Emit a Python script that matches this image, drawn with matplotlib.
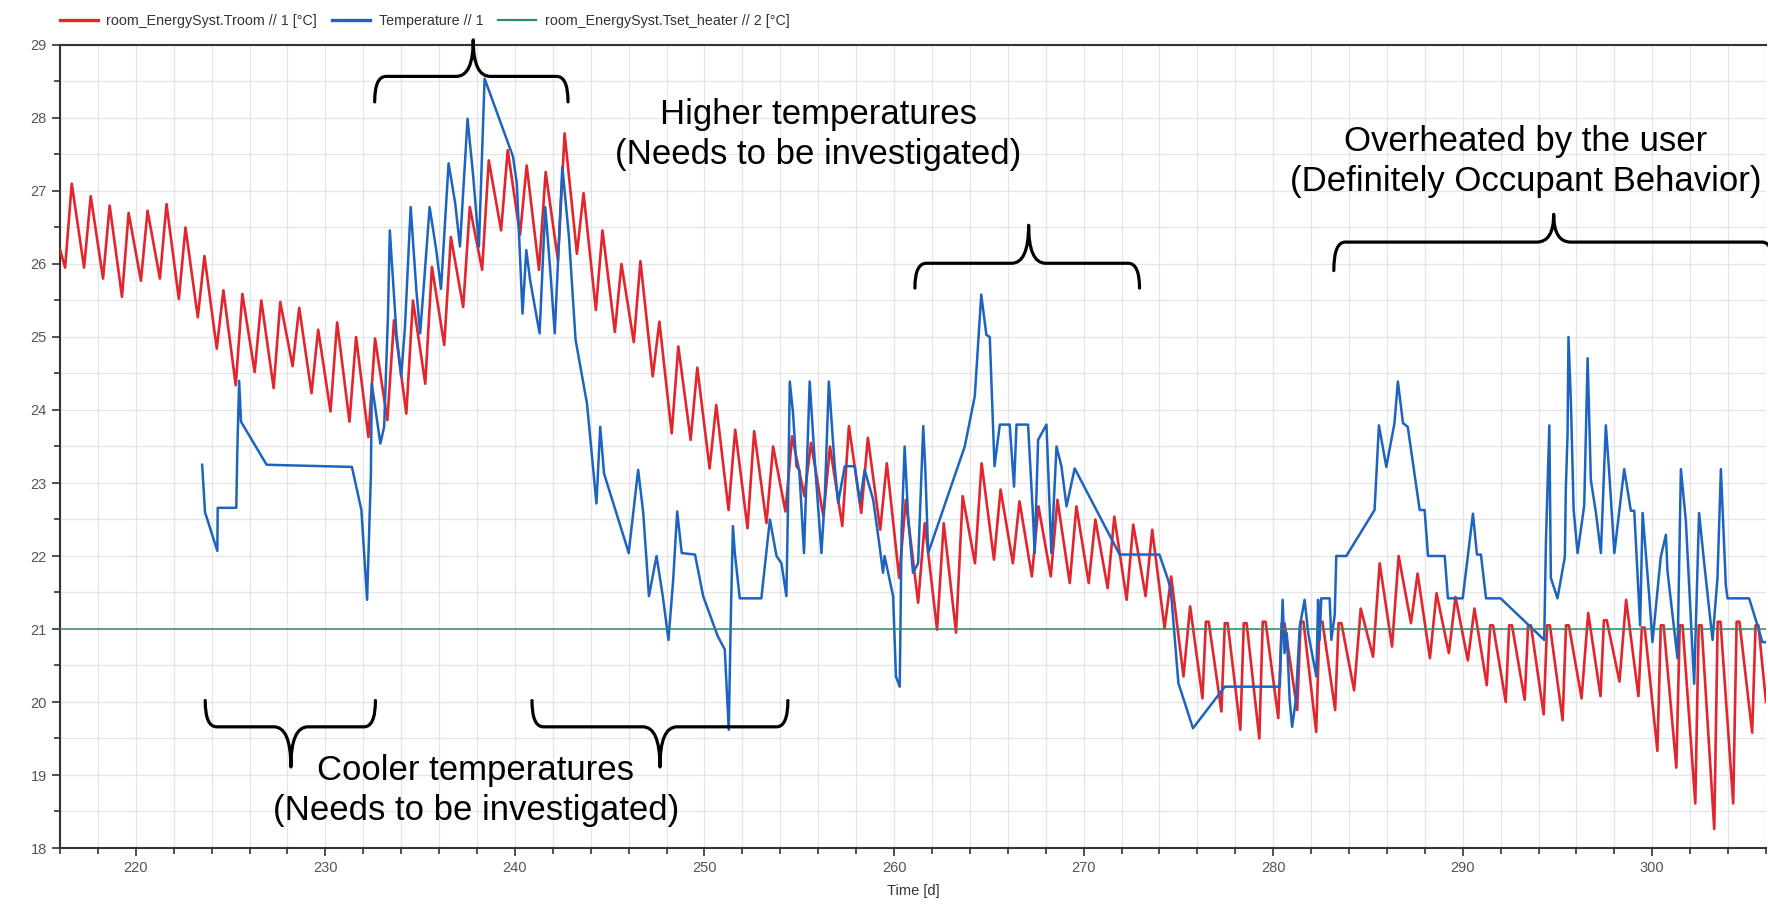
import numpy as np
import matplotlib
matplotlib.use("Agg")
import matplotlib.pyplot as plt
from matplotlib.path import Path
from matplotlib.patches import PathPatch
from matplotlib.lines import Line2D

# ---------------- data ----------------
# simulated room temperature: one trough and one peak per day
sim_days = list(range(216, 306))
sim_low = [25.95, 25.95, 25.80, 25.55, 25.77, 25.80, 25.52, 25.27, 24.84, 24.34,
           24.52, 24.30, 24.60, 24.23, 23.98, 23.84, 23.63, 23.86, 23.95, 24.36,
           24.89, 25.41, 25.92, 26.46, 26.40, 25.92, 26.05, 26.14, 25.37, 25.07,
           24.93, 24.46, 23.68, 23.59, 23.20, 22.63, 22.38, 22.45, 22.61, 22.82,
           22.54, 22.41, 22.59, 22.36, 21.70, 21.36, 20.99, 20.95, 21.90, 21.95,
           21.90, 21.72, 21.72, 21.63, 21.63, 21.56, 21.40, 21.45, 21.01, 20.35,
           20.05, 19.87, 19.62, 19.50, 19.78, 19.89, 19.59, 19.89, 20.16, 20.62,
           20.76, 21.08, 20.60, 20.67, 20.57, 20.23, 20.00, 20.03, 19.83, 19.75,
           20.05, 20.08, 20.28, 20.08, 19.33, 19.10, 18.61, 18.26, 18.61, 19.58]
sim_high = [27.10, 26.93, 26.80, 26.70, 26.73, 26.82, 26.50, 26.11, 25.64, 25.59,
            25.50, 25.48, 25.40, 25.10, 25.20, 25.00, 24.98, 25.23, 25.50, 25.96,
            26.37, 26.78, 27.42, 27.56, 27.35, 27.26, 27.79, 26.97, 26.46, 26.00,
            26.04, 25.21, 24.87, 24.58, 24.07, 23.73, 23.71, 23.50, 23.64, 23.55,
            23.50, 23.78, 23.62, 23.27, 22.77, 22.45, 22.45, 22.82, 23.27, 22.91,
            22.75, 22.68, 22.77, 22.68, 22.50, 22.54, 22.43, 22.36, 21.72, 21.31,
            21.10, 21.08, 21.08, 21.10, 21.08, 21.10, 21.10, 21.08, 21.28, 21.90,
            22.00, 21.76, 21.49, 21.44, 21.28, 21.05, 21.05, 21.05, 21.05, 21.05,
            21.22, 21.12, 21.40, 21.02, 21.05, 21.05, 21.05, 21.10, 21.10, 21.05]
sim_first = 26.2
sim_last = 20.0

# measured temperature
meas_time = [223.5, 223.65, 224.3, 224.32, 225.3, 225.35, 225.45, 225.55, 226.9, 231.4,
             231.9, 232.2, 232.4, 232.45, 232.9, 233.1, 233.3, 233.4, 233.5, 233.75,
             234.0, 234.2, 234.5, 234.8, 235.0, 235.2, 235.5, 235.85, 236.1, 236.5,
             236.85, 237.1, 237.5, 237.8, 238.1, 238.4, 239.9, 240.1, 240.4, 240.6,
             240.8, 241.3, 241.6, 241.85, 242.1, 242.5, 242.85, 243.2, 243.8, 244.3,
             244.5, 244.7, 245.9, 246.0, 246.5, 246.77, 247.07, 247.47, 247.8, 248.1,
             248.35, 248.56, 248.8, 249.5, 249.93, 250.7, 251.07, 251.28, 251.39, 251.5,
             251.6, 251.86, 253.0, 253.45, 253.8, 254.06, 254.32, 254.4, 254.5, 254.67,
             254.85, 255.0, 255.25, 255.38, 255.55, 255.8, 256.17, 256.35, 256.56, 256.87,
             257.05, 257.4, 257.93, 258.2, 258.45, 258.9, 259.24, 259.42, 259.5, 259.95,
             260.1, 260.3, 260.4, 260.56, 260.75, 261.0, 261.27, 261.54, 261.65, 261.8,
             263.73, 264.26, 264.6, 264.87, 265.05, 265.3, 265.58, 266.1, 266.33, 266.46,
             267.07, 267.34, 267.42, 267.6, 268.04, 268.3, 268.57, 268.83, 269.1, 269.53,
             271.9, 274.0, 274.45, 274.6, 275.0, 275.77, 277.45, 280.35, 280.5, 280.6,
             280.72, 280.87, 281.0, 281.2, 281.4, 281.66, 281.85, 282.28, 282.37, 282.45,
             282.54, 282.98, 283.07, 283.25, 283.33, 283.86, 285.35, 285.58, 285.97, 286.4,
             286.58, 286.85, 287.1, 287.73, 287.99, 288.17, 289.05, 289.22, 290.0, 290.54,
             290.75, 290.96, 291.23, 292.0, 294.3, 294.39, 294.57, 294.65, 295.0, 295.39,
             295.44, 295.53, 295.58, 295.71, 295.85, 296.06, 296.41, 296.59, 296.76, 297.03,
             297.29, 297.55, 297.73, 298.0, 298.52, 298.87, 299.05, 299.36, 299.49, 299.84,
             300.01, 300.45, 300.72, 300.8, 301.33, 301.51, 301.77, 302.21, 302.47, 302.74,
             303.18, 303.44, 303.62, 303.88, 303.97, 305.11, 305.55, 305.81, 306.1]
meas_temp = [23.25, 22.6, 22.07, 22.66, 22.66, 23.39, 24.4, 23.84, 23.25, 23.22,
             22.63, 21.4, 23.1, 24.36, 23.54, 23.77, 25.28, 26.46, 26.05, 25.05,
             24.46, 25.14, 26.78, 25.64, 25.05, 25.73, 26.78, 26.19, 25.66, 27.38,
             26.83, 26.24, 27.99, 27.2, 26.24, 28.54, 27.47, 27.1, 25.32, 26.19,
             25.78, 25.05, 26.78, 25.96, 25.05, 27.33, 26.37, 24.96, 24.09, 22.72,
             23.77, 23.13, 22.13, 22.04, 23.18, 22.59, 21.45, 22.0, 21.45, 20.85,
             21.68, 22.61, 22.04, 22.02, 21.45, 20.9, 20.72, 19.62, 21.17, 22.41,
             22.04, 21.42, 21.42, 22.5, 22.0, 21.9, 21.45, 22.59, 24.39, 23.96,
             23.23, 23.18, 22.04, 23.05, 24.39, 23.37, 22.04, 22.82, 24.39, 23.23,
             22.73, 23.23, 23.23, 22.73, 23.18, 22.77, 22.13, 21.77, 22.0, 21.45,
             20.35, 20.21, 22.36, 23.5, 22.5, 21.77, 21.9, 23.78, 23.18, 22.04,
             23.5, 24.19, 25.58, 25.03, 25.0, 23.23, 23.8, 23.8, 22.95, 23.8,
             23.8, 22.5, 22.04, 23.59, 23.8, 22.04, 23.5, 23.23, 22.68, 23.2,
             22.02, 22.02, 21.68, 21.54, 20.26, 19.64, 20.21, 20.21, 21.4, 20.67,
             20.94, 20.03, 19.66, 20.03, 21.03, 21.4, 20.94, 20.35, 21.4, 20.85,
             21.42, 21.42, 20.85, 21.2, 22.0, 22.0, 22.63, 23.79, 23.22, 23.82,
             24.39, 23.82, 23.77, 22.63, 22.63, 22.0, 22.0, 21.42, 21.42, 22.58,
             22.02, 22.02, 21.42, 21.42, 20.85, 22.19, 23.79, 21.7, 21.42, 21.99,
             22.92, 23.66, 25.0, 24.09, 22.64, 22.04, 22.69, 24.71, 23.04, 22.59,
             22.04, 23.79, 23.14, 22.04, 23.19, 22.62, 22.62, 21.05, 22.59, 21.45,
             20.82, 21.99, 22.29, 21.8, 20.6, 23.19, 22.49, 20.25, 22.59, 21.9,
             20.85, 21.7, 23.19, 21.6, 21.42, 21.42, 21.05, 20.82, 20.82]

t_set_heater = 21.0

legend_labels = ["room_EnergySyst.Troom // 1 [°C]", "Temperature // 1",
                 "room_EnergySyst.Tset_heater // 2 [°C]"]

# ---------------- build simulated series ----------------
sim_t = [216.0]
sim_y = [sim_first]
for k, lo, hi in zip(sim_days, sim_low, sim_high):
    sim_t.append(k + 0.27)
    sim_y.append(lo)
    if hi <= 21.15:
        sim_t += [k + 0.45, k + 0.6]
        sim_y += [hi, hi]
    else:
        sim_t.append(k + 0.62)
        sim_y.append(hi)
sim_t.append(306.0)
sim_y.append(sim_last)

RED = "#e2262e"
BLUE = "#1c64c0"
GREEN = "#2e8b6a"
GRID = "#e6e6e6"
TICKC = "#555555"

plt.rcParams['font.family'] = ['Liberation Sans', 'DejaVu Sans']

fig = plt.figure(figsize=(17.68, 9.05), dpi=100)
ax = fig.add_axes([60 / 1768, 57 / 905, 1706 / 1768, 803 / 905])

ax.plot(sim_t, sim_y, color=RED, lw=1.9, zorder=3, solid_joinstyle='round')
ax.plot(meas_time, meas_temp, color=BLUE, lw=1.8, zorder=4, solid_joinstyle='round')
ax.axhline(t_set_heater, color=GREEN, lw=1.1, zorder=5)

ax.set_xlim(216, 306)
ax.set_ylim(18, 29)
ax.set_xticks(np.arange(220, 306, 10))
ax.set_xticks(np.arange(216, 307, 2), minor=True)
ax.set_yticks(np.arange(18, 29.1, 1))
ax.set_yticks(np.arange(18, 29.1, 0.5), minor=True)
ax.grid(which='both', color=GRID, lw=1.0, zorder=0)
ax.set_axisbelow(True)
ax.tick_params(which='both', direction='out', colors='#333333', labelcolor=TICKC,
               labelsize=10.5)
ax.tick_params(which='major', length=6, width=1.2)
ax.tick_params(which='minor', length=4, width=1.2)
for s in ['left', 'bottom', 'top']:
    ax.spines[s].set_color('#333333')
    ax.spines[s].set_linewidth(1.5)
ax.spines['right'].set_visible(False)
ax.set_xlabel("Time [d]", fontsize=10.5, color='#333333', labelpad=6)

# ---------------- braces ----------------
def brace(x0, x1, xt, y_end, y_line, y_tip, r=0.6, rt=0.9):
    verts = [(x0, y_end), (x0, y_line), (x0 + r, y_line),
             (xt - rt, y_line), (xt, y_line), (xt, y_tip),
             (xt, y_line), (xt + rt, y_line),
             (x1 - r, y_line), (x1, y_line), (x1, y_end)]
    codes = [Path.MOVETO, Path.CURVE3, Path.CURVE3,
             Path.LINETO, Path.CURVE3, Path.CURVE3,
             Path.CURVE3, Path.CURVE3,
             Path.LINETO, Path.CURVE3, Path.CURVE3]
    p = PathPatch(Path(verts, codes), fill=False, lw=2.3, color='black',
                  zorder=6, clip_on=False, capstyle='round', joinstyle='round')
    ax.add_patch(p)

brace(232.6, 242.8, 237.8, 28.22, 28.57, 29.07)
brace(261.1, 272.95, 267.1, 25.67, 26.01, 26.53)
brace(283.2, 306.4, 294.8, 25.91, 26.30, 26.68)
brace(223.66, 232.64, 228.18, 20.02, 19.66, 19.11)
brace(240.9, 254.4, 247.65, 20.02, 19.66, 19.11)

# ---------------- annotations ----------------
txt_kw = dict(fontsize=25, ha='center', va='center', multialignment='center',
              color='black', zorder=7, linespacing=1.27)
ax.text(256.0, 27.78, "Higher temperatures\n(Needs to be investigated)", **txt_kw)
ax.text(293.3, 27.41, "Overheated by the user\n(Definitely Occupant Behavior)", **txt_kw)
ax.text(237.94, 18.79, "Cooler temperatures\n(Needs to be investigated)", **txt_kw)

# ---------------- legend ----------------
handles = [Line2D([], [], color=RED, lw=2.4), Line2D([], [], color=BLUE, lw=2.4),
           Line2D([], [], color=GREEN, lw=1.6)]
fig.legend(handles, legend_labels, loc='center left',
           bbox_to_anchor=(47 / 1768, 1 - 21 / 905), ncol=3, frameon=False,
           fontsize=10.3, handlelength=2.65, handletextpad=0.6, columnspacing=1.05,
           labelcolor='#333333')

fig.savefig("out.png", dpi=100)
